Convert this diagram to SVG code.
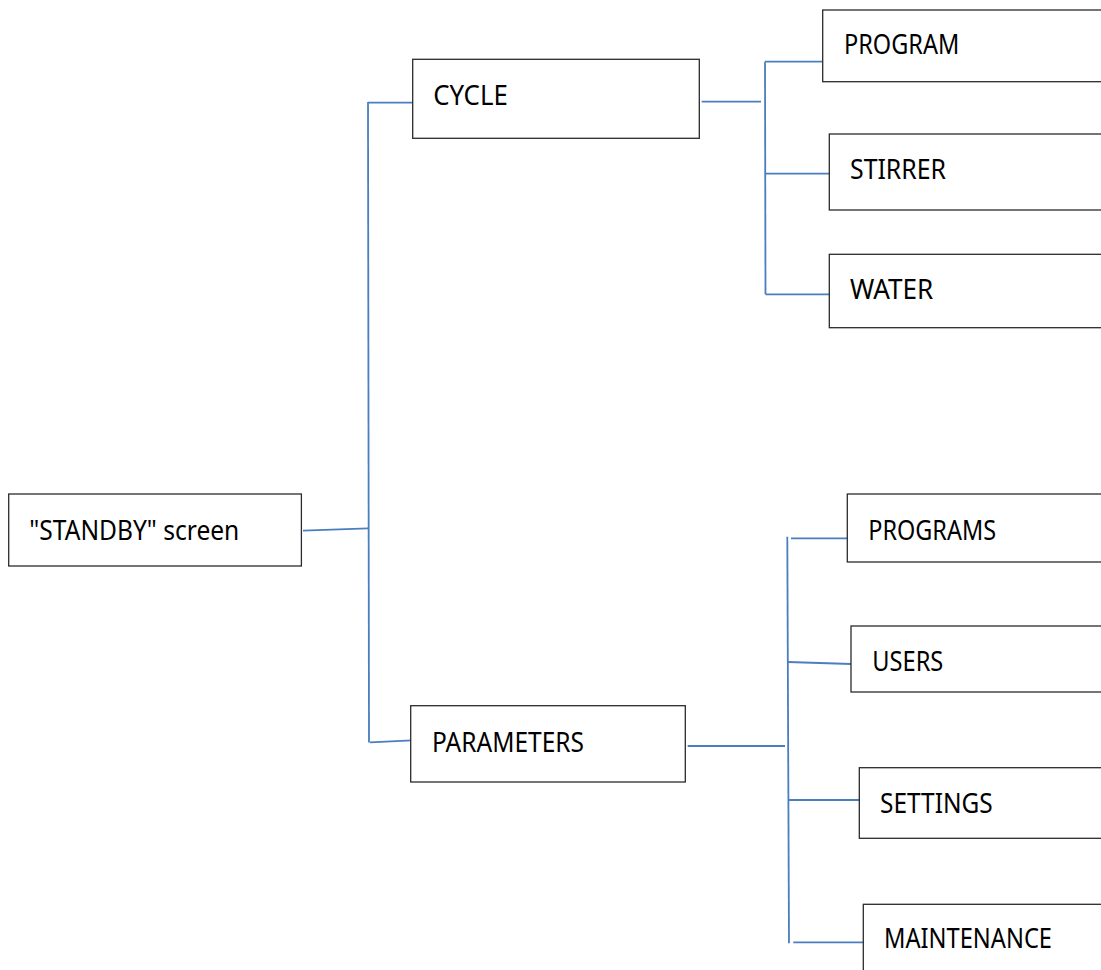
<svg xmlns="http://www.w3.org/2000/svg" width="1101" height="970" viewBox="0 0 1101 970">
<style>
.box{fill:#fff;stroke:#2b2b2b;stroke-width:1.3}
.lbl{font-family:"Noto Sans","Open Sans","Liberation Sans",sans-serif;font-size:26.5px;fill:#000}
.con{stroke:#4a7ebf;stroke-width:1.8;fill:none}
</style>
<rect width="1101" height="970" fill="#fff"/>
<g id="connectors" class="con">
<line x1="303" y1="530.7" x2="368" y2="528.3"/>
<line x1="368" y1="102" x2="369" y2="742.5"/>
<line x1="368" y1="102.7" x2="412.7" y2="102.7"/>
<line x1="370" y1="742.3" x2="417.3" y2="740.2"/>
<line x1="701.7" y1="101.7" x2="761" y2="101.7"/>
<line x1="765" y1="61.7" x2="765.5" y2="294.3"/>
<line x1="765" y1="61.7" x2="823" y2="61.7"/>
<line x1="765" y1="173.7" x2="829.3" y2="173.7"/>
<line x1="765.5" y1="294.3" x2="829.3" y2="294.3"/>
<line x1="687.7" y1="746" x2="785" y2="746"/>
<line x1="787.3" y1="536.7" x2="789" y2="943.3"/>
<line x1="791" y1="538.3" x2="847.3" y2="538.3"/>
<line x1="788" y1="662" x2="851" y2="664"/>
<line x1="789" y1="800" x2="860.7" y2="800"/>
<line x1="793.3" y1="942.3" x2="865" y2="942.3"/>
</g>
<g id="standby"><rect class="box" x="8.7" y="494" width="292.7" height="72"/><text class="lbl" x="29.3" y="540" textLength="210" lengthAdjust="spacingAndGlyphs">"STANDBY" screen</text></g>
<g id="cycle"><rect class="box" x="412.7" y="59.3" width="286.6" height="79"/><text class="lbl" x="433.3" y="105" textLength="74.4" lengthAdjust="spacingAndGlyphs">CYCLE</text></g>
<g id="parameters"><rect class="box" x="410.7" y="705.7" width="274.6" height="76.3"/><text class="lbl" x="432" y="752" textLength="152" lengthAdjust="spacingAndGlyphs">PARAMETERS</text></g>
<g id="program"><rect class="box" x="822.7" y="10" width="290" height="71.7"/><text class="lbl" x="844" y="54.3" textLength="115.3" lengthAdjust="spacingAndGlyphs">PROGRAM</text></g>
<g id="stirrer"><rect class="box" x="829.3" y="134" width="290" height="76"/><text class="lbl" x="850" y="178.7" textLength="96" lengthAdjust="spacingAndGlyphs">STIRRER</text></g>
<g id="water"><rect class="box" x="829.3" y="254.3" width="290" height="73.4"/><text class="lbl" x="850" y="298.7" textLength="83.3" lengthAdjust="spacingAndGlyphs">WATER</text></g>
<g id="programs"><rect class="box" x="847.3" y="494" width="290" height="68"/><text class="lbl" x="868.3" y="540.3" textLength="127.7" lengthAdjust="spacingAndGlyphs">PROGRAMS</text></g>
<g id="users"><rect class="box" x="851" y="626" width="290" height="66"/><text class="lbl" x="872.3" y="671" textLength="71" lengthAdjust="spacingAndGlyphs">USERS</text></g>
<g id="settings"><rect class="box" x="859.3" y="767.7" width="290" height="70.6"/><text class="lbl" x="880" y="813.3" textLength="112.7" lengthAdjust="spacingAndGlyphs">SETTINGS</text></g>
<g id="maintenance"><rect class="box" x="863.3" y="904.3" width="290" height="90"/><text class="lbl" x="884" y="948.3" textLength="168" lengthAdjust="spacingAndGlyphs">MAINTENANCE</text></g>
</svg>
